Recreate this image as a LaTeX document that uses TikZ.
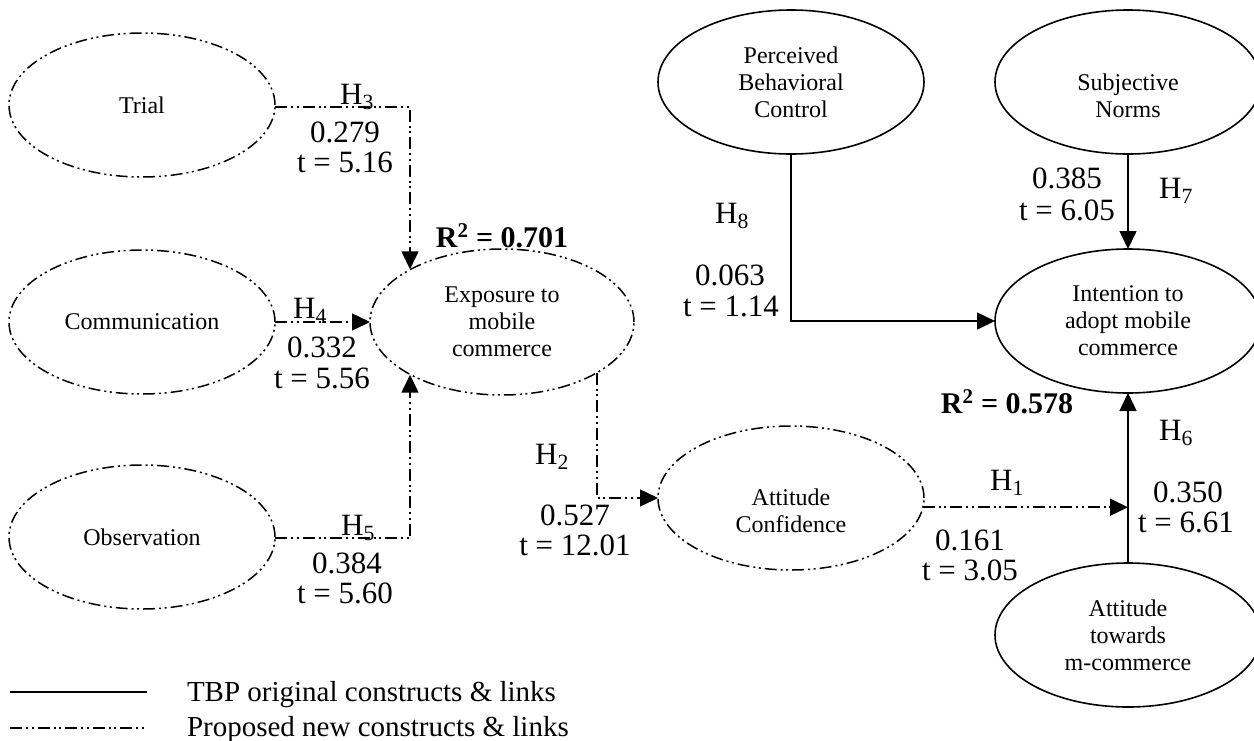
\documentclass[tikz,border=0pt]{standalone}
\usepackage{fontspec}
\setmainfont{Liberation Serif}
\usetikzlibrary{shapes.geometric,arrows.meta,calc}
\begin{document}
\begin{tikzpicture}[x=1pt,y=-1pt,
  every node/.style={inner sep=0pt,outer sep=0pt},
  nodetext/.style={font=\fontsize{24}{27}\selectfont, align=center},
  dashdot/.style={line width=1.5pt, dash pattern=on 12pt off 4pt on 2pt off 3.5pt on 2pt off 4pt},
  tbp/.style={line width=1.6pt},
  construct/.style={ellipse, draw, tbp, minimum width=266pt, minimum height=144pt, nodetext},
  newc/.style={ellipse, draw, dashdot, minimum width=266pt, minimum height=144pt, nodetext},
  lbl/.style={font=\fontsize{31}{31}\selectfont, anchor=base},
  rsq/.style={font=\fontsize{30}{30}\selectfont\bfseries, anchor=base},
  arr/.style={-{Triangle[length=18pt,width=17pt]}},
  legtext/.style={font=\fontsize{29}{29}\selectfont, anchor=base west},
]
\useasboundingbox (0,0) rectangle (1254,740);

% constructs
\node[newc] (trial) at (142,105) {Trial};
\node[newc] (comm) at (142,322) {Communication};
\node[newc] (obs) at (142,537) {Observation};
\node[newc, minimum width=264pt, minimum height=146pt] (expo) at (502,322) {Exposure to\\mobile\\commerce};
\node[newc, label={[nodetext,yshift=-13pt]center:Attitude\\Confidence}] (ac) at (791,498) {};
\node[construct] (pbc) at (791,82) {Perceived\\Behavioral\\Control};
\node[construct, label={[nodetext,yshift=-14pt]center:Subjective\\Norms}] (sn) at (1128,82) {};
\node[construct] (int) at (1128,321) {Intention to\\adopt mobile\\commerce};
\node[construct] (att) at (1128,635) {Attitude\\towards\\m-commerce};

% proposed links
\coordinate (c3) at (410,107);
\draw[dashdot, arr] (trial.east |- c3) -- (c3) -- (c3 |- expo.150);
\draw[dashdot, arr] (comm.east) -- (expo.west);
\coordinate (c5) at (410,538);
\draw[dashdot, arr] (obs.east |- c5) -- (c5) -- (c5 |- expo.210);
\draw[dashdot, arr] (expo.332) |- (ac.west);
\draw[dashdot, arr] (ac.356) -- (ac.356 -| att.north);

% TBP links
\draw[tbp, arr] (att.north) -- (int.south);
\draw[tbp, arr] (sn.south) -- (int.north);
\draw[tbp, arr] (pbc.south) |- (int.west);

% path labels
\node[lbl] (h3) at (357,104) {H\textsubscript{3}};
\node[lbl] (v3) at (345,142) {0.279};
\node[lbl] (t3) at (345,172) {t = 5.16};
\node[lbl] (h4) at (310,318) {H\textsubscript{4}};
\node[lbl] (v4) at (322,357) {0.332};
\node[lbl] (t4) at (322,388) {t = 5.56};
\node[lbl] (h5) at (358,535) {H\textsubscript{5}};
\node[lbl] (v5) at (347,573) {0.384};
\node[lbl] (t5) at (345,603) {t = 5.60};
\node[lbl] (h2) at (552,464) {H\textsubscript{2}};
\node[lbl] (v2) at (575,525) {0.527};
\node[lbl] (t2) at (575,555) {t = 12.01};
\node[lbl] (h8) at (732,223) {H\textsubscript{8}};
\node[lbl] (v8) at (730,285) {0.063};
\node[lbl] (t8) at (731,316) {t = 1.14};
\node[lbl] (v7) at (1067,188) {0.385};
\node[lbl] (t7) at (1067,220) {t = 6.05};
\node[lbl] (h7) at (1176,198) {H\textsubscript{7}};
\node[lbl] (h6) at (1176,440) {H\textsubscript{6}};
\node[lbl] (h1) at (1007,490) {H\textsubscript{1}};
\node[lbl] (v1) at (970,550) {0.161};
\node[lbl] (t1) at (970,580) {t = 3.05};
\node[lbl] (v6) at (1188,502) {0.350};
\node[lbl] (t6) at (1186,532) {t = 6.61};
\node[rsq] (r2a) at (502,247) {R\textsuperscript{2} = 0.701};
\node[rsq] (r2b) at (1007,413) {R\textsuperscript{2} = 0.578};

% legend
\coordinate (l1a) at (10,692);
\coordinate (l1b) at (147,692);
\coordinate (l2a) at (10,728);
\coordinate (l2b) at (147,728);
\draw[tbp] (l1a) -- (l1b);
\draw[dashdot] (l2a) -- (l2b);
\node[legtext] (leg1) at (187,701) {TBP original constructs \& links};
\node[legtext] (leg2) at (187,736) {Proposed new constructs \& links};
\end{tikzpicture}
\end{document}
